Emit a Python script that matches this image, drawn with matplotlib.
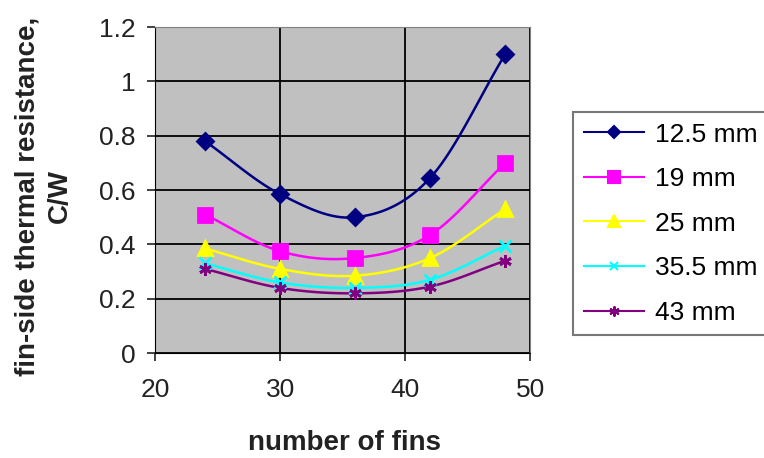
import numpy as np
import matplotlib.pyplot as plt

plt.rcParams['font.family'] = ['Liberation Sans', 'DejaVu Sans']

# data
fins = [24, 30, 36, 42, 48]
r_12_5 = [0.78, 0.585, 0.50, 0.645, 1.10]
r_19 = [0.51, 0.375, 0.35, 0.435, 0.70]
r_25 = [0.385, 0.31, 0.285, 0.35, 0.53]
r_35_5 = [0.33, 0.26, 0.24, 0.27, 0.395]
r_43 = [0.31, 0.24, 0.22, 0.245, 0.34]
labels = ['12.5 mm', '19 mm', '25 mm', '35.5 mm', '43 mm']


# Excel-like smoothed line (Catmull-Rom) through the points
def smooth(x, y, n=30):
    x = np.asarray(x, float)
    y = np.asarray(y, float)
    px = np.concatenate([[2 * x[0] - x[1]], x, [2 * x[-1] - x[-2]]])
    py = np.concatenate([[2 * y[0] - y[1]], y, [2 * y[-1] - y[-2]]])
    xs, ys = [], []
    t = np.linspace(0, 1, n)
    for i in range(1, len(px) - 2):
        for p, out in ((px, xs), (py, ys)):
            p0, p1, p2, p3 = p[i - 1], p[i], p[i + 1], p[i + 2]
            out.extend(0.5 * (2 * p1 + (-p0 + p2) * t
                              + (2 * p0 - 5 * p1 + 4 * p2 - p3) * t ** 2
                              + (-p0 + 3 * p1 - 3 * p2 + p3) * t ** 3))
    return xs, ys


fig = plt.figure(figsize=(7.64, 4.58), dpi=100)
ax = fig.add_axes([0.203, 0.229, 0.491, 0.712])
ax.set_facecolor('#c0c0c0')

series = [r_12_5, r_19, r_25, r_35_5, r_43]
colors = ['#000080', '#ff00ff', '#ffff00', '#00ffff', '#800080']
markers = ['D', 's', '^', 'x', (6, 2, 0)]
sizes = [8, 10, 10, 8, 9]
handles = []
for vals, c, m, s, lab in zip(series, colors, markers, sizes, labels):
    sx, sy = smooth(fins, vals)
    ax.plot(sx, sy, color=c, lw=1.8, zorder=3)
    ax.plot(fins, vals, ls='none', marker=m, ms=s, color=c, mec=c, mew=2, zorder=4)
    h, = ax.plot([], [], color=c, lw=1.5, marker=m, ms=s * 0.8, mec=c, mew=1.5, label=lab)
    handles.append(h)

ax.set_xlim(20, 50)
ax.set_ylim(0, 1.2)
ax.set_xticks([20, 30, 40, 50])
ax.set_yticks([0, 0.2, 0.4, 0.6, 0.8, 1.0, 1.2])
ax.set_yticklabels(['0', '0.2', '0.4', '0.6', '0.8', '1', '1.2'])
ax.grid(True, color='black', lw=1.3)
ax.set_axisbelow(True)
for s in ax.spines.values():
    s.set_color('#808080')
ax.spines['left'].set_color('black')
ax.spines['bottom'].set_color('black')
ax.tick_params(direction='out', length=6, width=1.2, labelsize=19, colors='#222222')
ax.tick_params(axis='x', pad=12)
ax.tick_params(axis='y', pad=8)

fig.text(345 / 764, 1 - 443 / 458, 'number of fins', fontsize=20, fontweight='bold',
         ha='center', va='center', color='#222222')
fig.text(44 / 764, 1 - 196 / 458, 'fin-side thermal resistance,\nC/W', fontsize=20,
         fontweight='bold', rotation=90, ha='center', va='center', linespacing=1.3,
         color='#222222')

leg = fig.legend(handles=handles, loc='upper left', bbox_to_anchor=(573 / 764, 1 - 112 / 458),
                 fontsize=19, frameon=True, fancybox=False, edgecolor='#555555',
                 handlelength=2.3, handletextpad=0.4, labelspacing=0.78, borderpad=0.4,
                 borderaxespad=0)
leg.get_frame().set_linewidth(1.5)

plt.savefig('out.png', dpi=100)
